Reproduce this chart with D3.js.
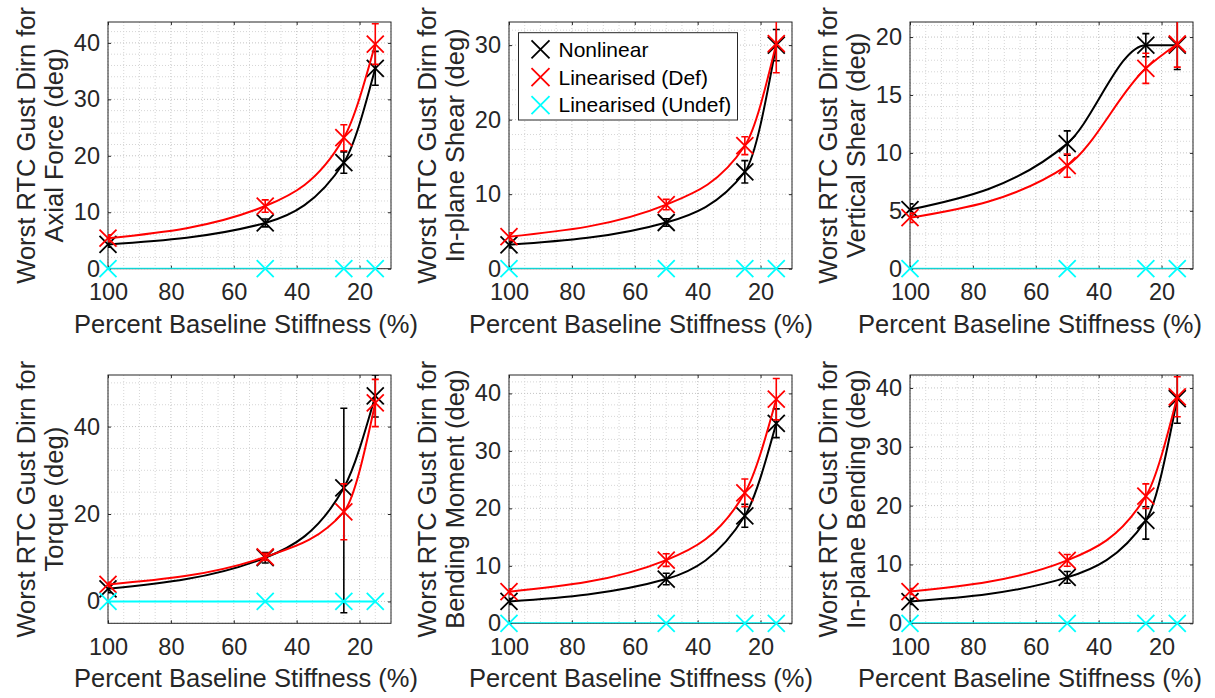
<!DOCTYPE html>
<html>
<head>
<meta charset="utf-8">
<script src="https://cdn.jsdelivr.net/npm/d3@7"></script>
<style>
  html, body { margin: 0; padding: 0; background: #fff; }
  svg { display: block; font-family: "Liberation Sans", Arial, Helvetica, sans-serif; }
</style>
</head>
<body>
<svg id="chart" width="1215" height="698"></svg>
<script>
// ---------------- DATA ----------------
const stiffness = [100, 50, 25, 15];
const xTicks = [20, 40, 60, 80, 100];
const seriesNames = ["Nonlinear", "Linearised (Def)", "Linearised (Undef)"];
const seriesColors = ["#000000", "#ff0000", "#00ffff"];
const xLabel = "Percent Baseline Stiffness (%)";
const yLabelLine1 = "Worst RTC Gust Dirn for";

const panelTitles = ["Axial Force (deg)", "In-plane Shear (deg)", "Vertical Shear (deg)",
                     "Torque (deg)", "Bending Moment (deg)", "In-plane Bending (deg)"];
const yDomains = [[0, 43.7], [0, 33.1], [0, 21.3], [-5, 51.8], [0, 43.2], [0, 42.2]];
const yTicks = [[0, 10, 20, 30, 40], [0, 10, 20, 30], [0, 5, 10, 15, 20],
                [0, 20, 40], [0, 10, 20, 30, 40], [0, 10, 20, 30, 40]];

// Nonlinear (black)
const nonlinear = [
  [4.3, 8.1, 18.8, 35.5],
  [3.2, 6.2, 13.0, 30.0],
  [5.1, 10.8, 19.3, 19.3],
  [2.9, 10.0, 26.0, 47.0],
  [3.8, 7.7, 18.7, 34.8],
  [3.7, 7.8, 17.5, 38.2]
];
const nonlinearErrLow = [
  [0.5, 0.7, 1.9, 3.0],
  [0.4, 0.5, 1.5, 2.1],
  [0.5, 1.0, 1.0, 2.1],
  [0.9, 1.2, 28.6, 4.8],
  [0.5, 1.0, 2.0, 2.5],
  [0.5, 1.0, 3.2, 4.2]
];
const nonlinearErrHigh = [
  [0.5, 0.7, 1.9, 3.0],
  [0.4, 0.5, 1.5, 2.1],
  [0.5, 1.1, 1.0, 2.1],
  [0.9, 1.2, 18.2, 4.8],
  [0.5, 1.0, 2.0, 2.5],
  [0.5, 1.0, 2.3, 4.2]
];
// Linearised (Def) (red)
const linDef = [
  [5.4, 11.1, 23.2, 39.8],
  [4.3, 8.6, 16.5, 30.2],
  [4.4, 8.9, 17.3, 19.4],
  [3.9, 10.2, 20.5, 45.4],
  [5.5, 11.0, 22.7, 39.0],
  [5.4, 10.7, 21.6, 38.5]
];
const linDefErr = [
  [0.6, 1.1, 2.3, 3.6],
  [0.5, 0.7, 1.2, 3.9],
  [0.4, 1.0, 1.3, 2.0],
  [0.5, 0.8, 6.4, 5.4],
  [0.5, 1.1, 2.4, 3.6],
  [0.5, 1.0, 2.1, 3.4]
];
// Linearised (Undef) (cyan)
const linUndef = [
  [0, 0, 0, 0], [0, 0, 0, 0], [0, 0, 0, 0],
  [0, 0, 0, 0], [0, 0, 0, 0], [0, 0, 0, 0]
];

// ---------------- LAYOUT ----------------
const colLefts = [108, 509, 910];
const xLabelCenters = [246, 641, 1030];
const plotW = 283;
const rowTops = [22, 375];
const rowBottoms = [268.7, 623.3];
const textColor = "#262626";
const tickFont = 23.5, labelFont = 25.5, legendFont = 21;

const svg = d3.select("#chart");

function minorValues(domainLo, domainHi, majorStep) {
  const ms = majorStep === 20 ? 5 : majorStep / 5;
  const start = Math.ceil(domainLo / ms) * ms;
  const vals = [];
  for (let v = start; v <= domainHi + 1e-9; v += ms) {
    const r = Math.round(v * 1000) / 1000;
    if (Math.abs(r / majorStep - Math.round(r / majorStep)) > 1e-6) vals.push(r);
  }
  return vals;
}

for (let p = 0; p < 6; p++) {
  const col = p % 3, row = Math.floor(p / 3);
  const left = colLefts[col], right = left + plotW;
  const top = rowTops[row], bottom = rowBottoms[row];

  const x = d3.scaleLinear().domain([100, 10]).range([left, right]);
  const y = d3.scaleLinear().domain(yDomains[p]).range([bottom, top]);

  const g = svg.append("g");
  const clipId = "clip" + p;
  svg.append("clipPath").attr("id", clipId)
    .append("rect").attr("x", left).attr("y", top).attr("width", right - left).attr("height", bottom - top);

  g.append("rect").attr("x", left).attr("y", top).attr("width", right - left).attr("height", bottom - top)
    .attr("fill", "#fff");

  // grid
  const yStep = yTicks[p][1] - yTicks[p][0];
  const xMinor = minorValues(10, 100, 20);
  const yMinor = minorValues(yDomains[p][0], yDomains[p][1], yStep);
  const grid = g.append("g").attr("fill", "none");
  grid.selectAll(".xm").data(xMinor).enter().append("line")
    .attr("x1", d => x(d)).attr("x2", d => x(d)).attr("y1", top).attr("y2", bottom)
    .attr("stroke", "#d6d6d6").attr("stroke-width", 1).attr("stroke-dasharray", "1,2");
  grid.selectAll(".ym").data(yMinor).enter().append("line")
    .attr("x1", left).attr("x2", right).attr("y1", d => y(d)).attr("y2", d => y(d))
    .attr("stroke", "#d6d6d6").attr("stroke-width", 1).attr("stroke-dasharray", "1,2");
  grid.selectAll(".xM").data(xTicks).enter().append("line")
    .attr("x1", d => x(d)).attr("x2", d => x(d)).attr("y1", top).attr("y2", bottom)
    .attr("stroke", "#c4c4c4").attr("stroke-width", 1).attr("stroke-dasharray", "1,2");
  grid.selectAll(".yM").data(yTicks[p]).enter().append("line")
    .attr("x1", left).attr("x2", right).attr("y1", d => y(d)).attr("y2", d => y(d))
    .attr("stroke", "#c4c4c4").attr("stroke-width", 1).attr("stroke-dasharray", "1,2");

  // axes
  const axB = g.append("g").attr("transform", `translate(0,${bottom})`)
    .call(d3.axisBottom(x).tickValues(xTicks).tickSize(-3).tickPadding(15).tickSizeOuter(0));
  const axT = g.append("g").attr("transform", `translate(0,${top})`)
    .call(d3.axisTop(x).tickValues(xTicks).tickSize(-3).tickFormat("").tickSizeOuter(0));
  const axL = g.append("g").attr("transform", `translate(${left},0)`)
    .call(d3.axisLeft(y).tickValues(yTicks[p]).tickSize(-3).tickPadding(8).tickSizeOuter(0));
  const axR = g.append("g").attr("transform", `translate(${right},0)`)
    .call(d3.axisRight(y).tickValues(yTicks[p]).tickSize(-3).tickFormat("").tickSizeOuter(0));
  [axB, axT, axL, axR].forEach(a => {
    a.select(".domain").remove();
    a.selectAll("line").attr("stroke", textColor);
    a.selectAll("text").attr("fill", textColor).style("font-size", tickFont + "px")
      .style("font-family", '"Liberation Sans", Arial, sans-serif');
  });
  g.append("rect").attr("x", left).attr("y", top).attr("width", right - left).attr("height", bottom - top)
    .attr("fill", "none").attr("stroke", textColor).attr("stroke-width", 1);

  // series
  const seriesData = [
    { v: nonlinear[p], lo: nonlinearErrLow[p], hi: nonlinearErrHigh[p], c: seriesColors[0] },
    { v: linDef[p], lo: linDefErr[p], hi: linDefErr[p], c: seriesColors[1] },
    { v: linUndef[p], lo: null, hi: null, c: seriesColors[2] }
  ];
  const line = d3.line().x(d => x(d[0])).y(d => y(d[1])).curve(d3.curveMonotoneX);
  seriesData.forEach(s => {
    const pts = stiffness.map((st, i) => [st, s.v[i]]);
    const sg = g.append("g");
    sg.append("path").attr("d", line(pts)).attr("fill", "none").attr("stroke", s.c)
      .attr("stroke-width", 2).attr("clip-path", `url(#${clipId})`);
    if (s.lo) {
      const eb = sg.append("g").attr("clip-path", `url(#${clipId})`).attr("stroke", s.c).attr("stroke-width", 1.6);
      pts.forEach((d, i) => {
        const cx = x(d[0]);
        const yl = y(d[1] - s.lo[i]), yh = y(d[1] + s.hi[i]);
        eb.append("line").attr("x1", cx).attr("x2", cx).attr("y1", yl).attr("y2", yh);
        eb.append("line").attr("x1", cx - 3.5).attr("x2", cx + 3.5).attr("y1", yl).attr("y2", yl);
        eb.append("line").attr("x1", cx - 3.5).attr("x2", cx + 3.5).attr("y1", yh).attr("y2", yh);
      });
    }
    sg.selectAll(".mk").data(pts).enter().append("path")
      .attr("d", "M-8.5,-8.5L8.5,8.5M-8.5,8.5L8.5,-8.5")
      .attr("transform", d => `translate(${x(d[0])},${y(d[1])})`)
      .attr("stroke", s.c).attr("stroke-width", 1.8).attr("fill", "none");
  });

  // labels
  g.append("text").attr("x", xLabelCenters[col]).attr("y", bottom + 64)
    .attr("text-anchor", "middle").attr("fill", textColor).style("font-size", labelFont + "px")
    .text(xLabel);
  const cy = (top + bottom) / 2;
  g.append("text").attr("transform", `translate(${left - 73},${cy}) rotate(-90)`)
    .attr("text-anchor", "middle").attr("fill", textColor).style("font-size", labelFont + "px")
    .text(yLabelLine1);
  g.append("text").attr("transform", `translate(${left - 45},${cy}) rotate(-90)`)
    .attr("text-anchor", "middle").attr("fill", textColor).style("font-size", labelFont + "px")
    .text(panelTitles[p]);

  // legend in panel 2
  if (p === 1) {
    const lx = left + 9.5, ly = top + 10.7, lw = 219, lh = 87.3;
    const lg = g.append("g");
    lg.append("rect").attr("x", lx).attr("y", ly).attr("width", lw).attr("height", lh)
      .attr("fill", "#fff").attr("stroke", textColor).attr("stroke-width", 1);
    seriesNames.forEach((nm, i) => {
      const ry = ly + 16.6 + i * 27.9;
      lg.append("path").attr("d", "M-9,-9L9,9M-9,9L9,-9")
        .attr("transform", `translate(${lx + 22},${ry})`)
        .attr("stroke", seriesColors[i]).attr("stroke-width", 1.8).attr("fill", "none");
      lg.append("text").attr("x", lx + 40).attr("y", ry).attr("dy", "0.35em")
        .attr("fill", "#000").style("font-size", legendFont + "px").text(nm);
    });
  }
}
</script>
</body>
</html>
